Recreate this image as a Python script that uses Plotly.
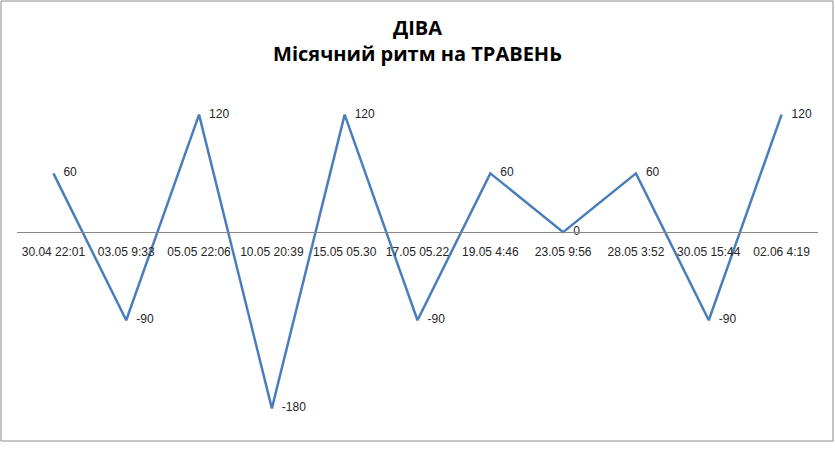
import plotly.graph_objects as go

# Lunar rhythm for May (ДІВА)
dates = [
    '30.04 22:01', '03.05 9:33', '05.05 22:06', '10.05 20:39',
    '15.05 05.30', '17.05 05.22', '19.05 4:46', '23.05 9:56',
    '28.05 3:52', '30.05 15:44', '02.06 4:19',
]
rhythm = [60, -90, 120, -180, 120, -90, 60, 0, 60, -90, 120]

y_min, y_max = -200, 140
zero_pos = (0 - y_min) / (y_max - y_min)

label_font = dict(family='Liberation Sans Narrow, Liberation Sans, sans-serif', size=12, color='#262626')

fig = go.Figure(go.Scatter(
    x=dates,
    y=rhythm,
    mode='lines+text',
    line=dict(color='#4a7ebb', width=2.5),
    text=['   ' + str(v) for v in rhythm],
    textposition='middle right',
    textfont=label_font,
    cliponaxis=False,
    hoverinfo='x+y',
))

fig.update_layout(
    width=835,
    height=463,
    margin=dict(l=17, r=17, t=95, b=35),
    paper_bgcolor='white',
    plot_bgcolor='white',
    showlegend=False,
    title=dict(
        text='<b>ДІВА<br>Місячний ритм на ТРАВЕНЬ</b>',
        font=dict(family='Open Sans, sans-serif', size=20, color='black'),
        x=0.5,
        xanchor='center',
        yref='container',
        y=1 - 35 / 463,
        yanchor='middle',
    ),
    xaxis=dict(
        type='category',
        range=[-0.5, len(dates) - 0.5],
        anchor='free',
        position=zero_pos,
        showline=True,
        linecolor='#868686',
        linewidth=1,
        showgrid=False,
        ticks='',
        tickfont=label_font,
        ticklabelstandoff=8,
        fixedrange=True,
    ),
    yaxis=dict(
        range=[y_min, y_max],
        visible=False,
        showgrid=False,
        zeroline=False,
        fixedrange=True,
    ),
    shapes=[
        # chart area border
        dict(type='rect', xref='paper', yref='paper',
             x0=-16 / 801, x1=816 / 801, y0=-13 / 333, y1=94 / 333 + 1,
             line=dict(color='#8c8c8c', width=1), fillcolor='rgba(0,0,0,0)'),
    ],
)

fig.write_html('out.html', config={'displayModeBar': False},
               post_script="document.body.style.margin='0';")
